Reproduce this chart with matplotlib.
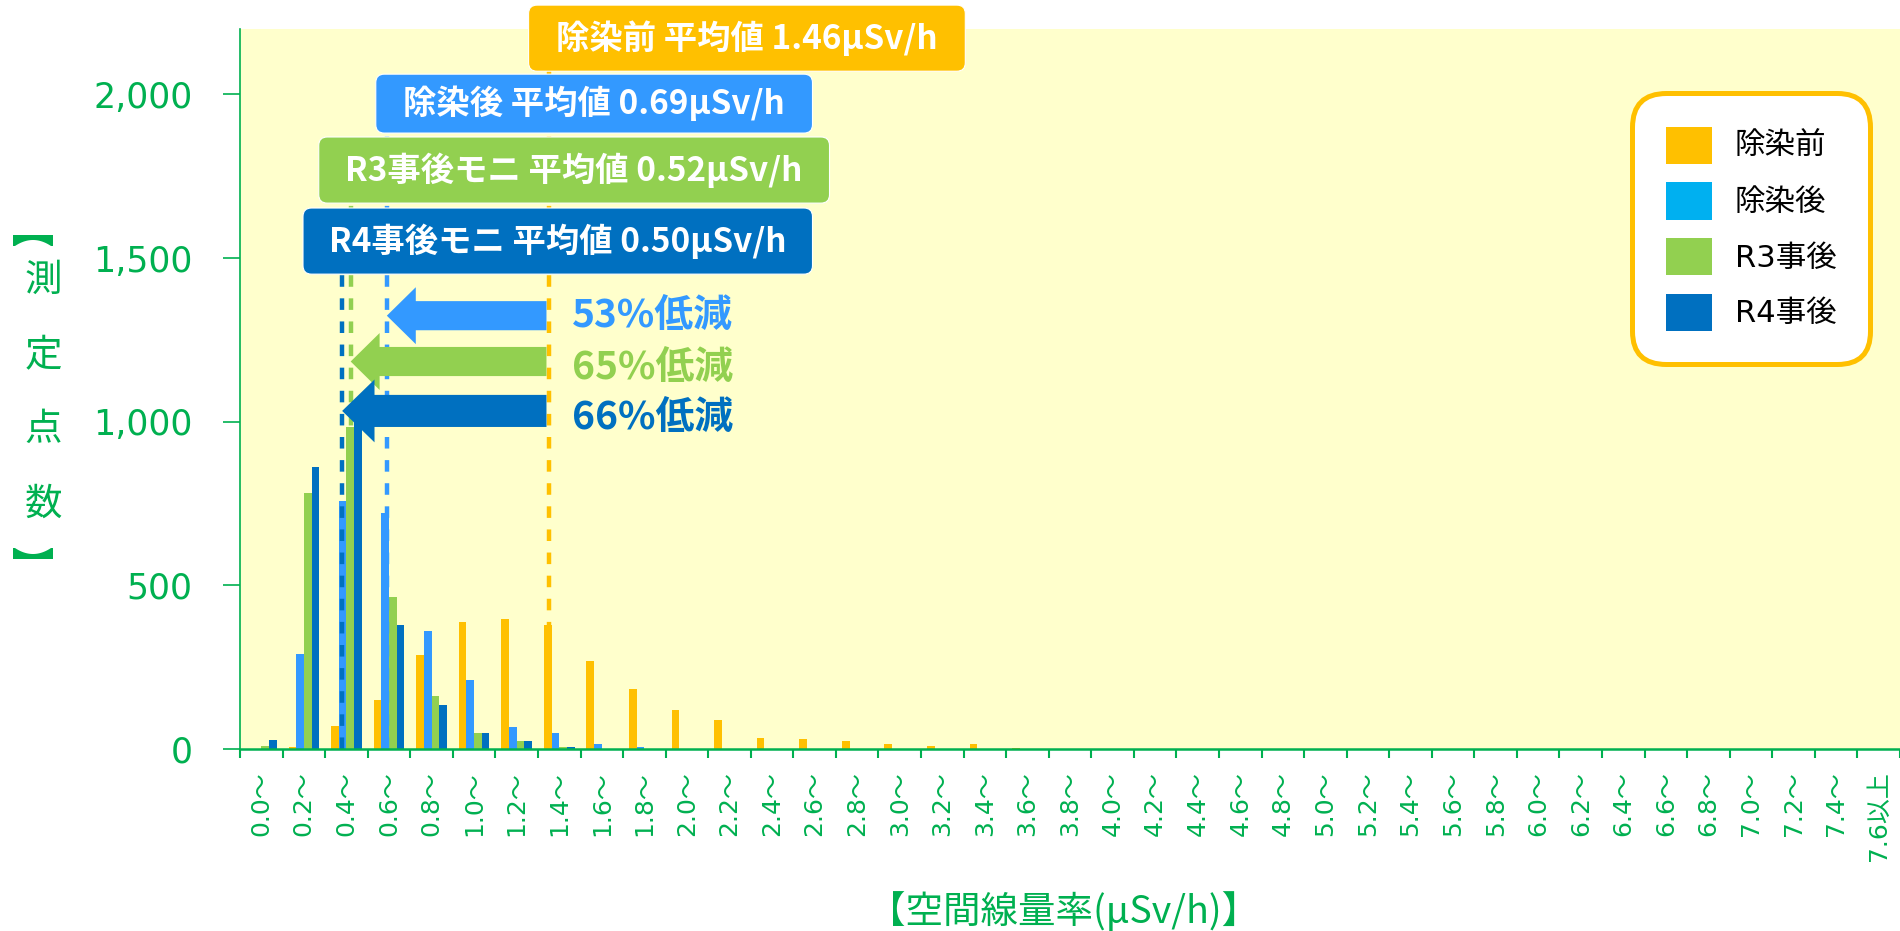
import matplotlib
matplotlib.use('Agg')
import matplotlib.pyplot as plt
from matplotlib.patches import FancyBboxPatch, FancyArrow, Patch, Polygon
import numpy as np

plt.rcParams['font.family'] = ['DejaVu Sans', 'Noto Sans CJK JP']

# 区分 (空間線量率)
categories = [f'{i * 0.2:.1f}～' for i in range(38)] + ['7.6以上']

before = [0, 7, 70, 150, 286, 388, 396, 380, 270, 183, 119, 89, 33, 30, 24, 14, 8, 14, 4] + [0] * 20
after = [0, 289, 759, 720, 361, 211, 68, 49, 16, 5] + [0] * 29
r3 = [9, 783, 983, 463, 162, 49, 23, 7, 1, 0] + [0] * 29
r4 = [26, 862, 1050, 380, 134, 49, 23, 5, 1, 0] + [0] * 29

series = [before, after, r3, r4]
series_names = ['除染前', '除染後', 'R3事後', 'R4事後']
bar_colors = ['#FFC000', '#3399FF', '#92D050', '#0070C0']
legend_colors = ['#FFC000', '#00B0F0', '#92D050', '#0070C0']

# 平均値（破線の位置）
mean_pos = [1.45, 0.69, 0.52, 0.48]
mean_labels = ['除染前 平均値 1.46μSv/h', '除染後 平均値 0.69μSv/h',
               'R3事後モニ 平均値 0.52μSv/h', 'R4事後モニ 平均値 0.50μSv/h']
reductions = ['53%低減', '65%低減', '66%低減']

GREEN = '#00B050'
BIN = 0.2
W, H = 1900, 931

fig = plt.figure(figsize=(19, 9.31), dpi=100)
ax = fig.add_axes([240 / W, (H - 749) / H, 1660 / W, 720 / H])
ax.set_facecolor('#FFFFCC')
ax.set_xlim(-0.5, len(categories) - 0.5)
ax.set_ylim(0, 2200)

# 棒グラフ
x = np.arange(len(categories))
width = 0.18
for k, (vals, c) in enumerate(zip(series, bar_colors)):
    ax.bar(x + (k - 1.5) * width, vals, width, color=c, zorder=2)

# 軸まわり
for s in ['top', 'right']:
    ax.spines[s].set_visible(False)
ax.spines['left'].set_color(GREEN)
ax.spines['left'].set_linewidth(1.2)
ax.spines['bottom'].set_color(GREEN)
ax.spines['bottom'].set_linewidth(1.8)
ax.spines['bottom'].set_zorder(4)

ax.set_yticks([0, 500, 1000, 1500, 2000])
ax.set_yticklabels(['0', '500', '1,000', '1,500', '2,000'])
ax.tick_params(axis='y', length=12, width=1.2, color=GREEN, labelcolor=GREEN,
               labelsize=25, pad=22)

ax.set_xticks(x)
ax.set_xticklabels(categories, rotation=90)
ax.set_xticks(np.arange(-0.5, len(categories), 1), minor=True)
ax.tick_params(axis='x', which='major', length=0, labelcolor=GREEN, labelsize=18, pad=16)
ax.tick_params(axis='x', which='minor', length=6.5, width=1.5, color=GREEN)

# 画素あたりのデータ量（角丸の補正用）
p0 = ax.transData.transform((0, 0))
px_x = ax.transData.transform((1, 0))[0] - p0[0]
px_y = ax.transData.transform((0, 1))[1] - p0[1]
aspect = (1 / px_y) / (1 / px_x)

line_x = [m / BIN - 0.5 for m in mean_pos]

# 平均値ラベルの箱 (left, right, bottom, top)
boxes = [(6.28, 16.54, 2071, 2273),
         (2.69, 12.95, 1882, 2062),
         (1.35, 13.35, 1668, 1870),
         (0.98, 12.95, 1451, 1653)]

for lx, (l, r, b, t), c in zip(line_x, boxes, bar_colors):
    ax.plot([lx, lx], [0, b], color=c, lw=3.2, linestyle=(0, (2.6, 2.6)), zorder=3)

for (l, r, b, t), c, label in zip(boxes, bar_colors, mean_labels):
    patch = FancyBboxPatch((l, b), r - l, t - b,
                           boxstyle='round,pad=0,rounding_size=0.2',
                           mutation_aspect=aspect, facecolor=c, edgecolor='white',
                           lw=0.8, zorder=6, clip_on=False)
    ax.add_patch(patch)
    ax.text((l + r) / 2, (b + t) / 2, label, color='white', fontsize=24,
            fontweight='bold', ha='center', va='center', zorder=7,
            family=['Noto Sans CJK JP', 'DejaVu Sans'], clip_on=False)

# 低減率の矢印
arrow_y = [1324, 1184, 1033]
arrow_w = [89, 89, 98]
head_w = [174, 174, 192]
head_l = [0.68, 0.68, 0.76]
text_y = [1326, 1167, 1014]
start = line_x[0] - 0.05
for i in range(3):
    c = bar_colors[i + 1]
    ax.add_patch(FancyArrow(start, arrow_y[i], line_x[i + 1] - start, 0,
                            width=arrow_w[i], head_width=head_w[i], head_length=head_l[i],
                            length_includes_head=True, color=c, lw=0, zorder=5))
    ax.text(7.29, text_y[i], reductions[i], color=c, fontsize=28, fontweight='bold',
            ha='left', va='center', zorder=7, family=['Noto Sans CJK JP', 'DejaVu Sans'])

# 凡例
handles = [Patch(facecolor=c, edgecolor='none') for c in legend_colors]
leg = ax.legend(handles, series_names, loc='upper right', bbox_to_anchor=(0.982, 0.911),
                handlelength=1.5, handleheight=1.5, labelspacing=0.6,
                handletextpad=0.75, borderpad=1.1, borderaxespad=0, fancybox=True,
                prop={'family': ['DejaVu Sans', 'Noto Sans CJK JP'], 'size': 22})
frame = leg.get_frame()
frame.set_edgecolor('#FFC000')
frame.set_linewidth(3.6)
frame.set_facecolor('white')
frame.set_alpha(1)
frame.set_boxstyle('round', pad=0, rounding_size=1.1)
leg.set_zorder(8)

# 軸ラベル
fig.text(1064 / W, (H - 912) / H, '【空間線量率(μSv/h)】', ha='center', va='center',
         fontsize=27, color=GREEN, family=['Noto Sans CJK JP', 'DejaVu Sans'])

for ch, py in [('測', 280), ('定', 356), ('点', 429), ('数', 504)]:
    fig.text(43 / W, (H - py) / H, ch, ha='center', va='center',
             fontsize=27, color=GREEN, family=['Noto Sans CJK JP'])


# 縦書きの【 】（横向きの括弧形）
def bracket(cx, flat_y, depth, half=20, thick=5):
    # depth > 0: 開口部が下向き（上側の括弧）、depth < 0: 上向き
    t = np.linspace(1, -1, 30)
    inner_x = cx + t * (half - 2)
    inner_y = flat_y + np.sign(depth) * (thick + (abs(depth) - thick) * t ** 2)
    pts = [(cx - half, flat_y), (cx + half, flat_y), (cx + half, flat_y + depth)]
    pts += list(zip(inner_x, inner_y))
    pts += [(cx - half, flat_y + depth)]
    pts = [(px / W, (H - py) / H) for px, py in pts]
    fig.add_artist(Polygon(pts, closed=True, facecolor=GREEN, edgecolor='none',
                           transform=fig.transFigure))


bracket(33, 235, 11)
bracket(33, 559, -11)

fig.savefig('out.png', dpi=100)
